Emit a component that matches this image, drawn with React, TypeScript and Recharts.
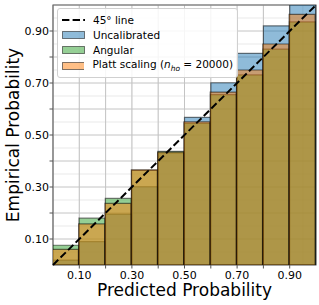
import React from "react";
import {
  Bar,
  BarChart,
  CartesianGrid,
  Legend,
  ReferenceArea,
  ReferenceLine,
  XAxis,
  YAxis,
} from "recharts";

// bin centres of the reliability diagram (10 equal-width bins on [0, 1])
const binCenters = [0.05, 0.15, 0.25, 0.35, 0.45, 0.55, 0.65, 0.75, 0.85, 0.95];
const uncalibrated = [0.019, 0.09, 0.196, 0.301, 0.43, 0.568, 0.701, 0.814, 0.92, 1.0];
const angular = [0.076, 0.18, 0.256, 0.364, 0.437, 0.546, 0.655, 0.731, 0.83, 0.935];
const platt = [0.06, 0.158, 0.237, 0.366, 0.434, 0.551, 0.665, 0.75, 0.85, 0.964];

const majorTicks = [0.1, 0.2, 0.3, 0.4, 0.5, 0.6, 0.7, 0.8, 0.9];
const labelledTicks = [0.1, 0.3, 0.5, 0.7, 0.9];
const minorTicks = [
  0.05, 0.1, 0.15, 0.2, 0.25, 0.3, 0.35, 0.4, 0.45, 0.5,
  0.55, 0.6, 0.65, 0.7, 0.75, 0.8, 0.85, 0.9, 0.95,
];

const BLUE = "#1f77b4";
const GREEN = "#2ca02c";
const ORANGE = "#ff7f0e";
const FONT = "'DejaVu Sans', sans-serif";

const data = binCenters.map((bin, i) => ({
  bin,
  uncal: uncalibrated[i],
  angular: angular[i],
  platt: platt[i],
}));

const isLabelled = (v: number) => labelledTicks.some((t) => Math.abs(t - v) < 1e-9);

// only every other tick carries a label; the rest keep just the tick mark
function XTick({ x, y, payload }: any) {
  if (!isLabelled(payload.value)) return <g />;
  return (
    <text x={x} y={y} dy="0.71em" textAnchor="middle" fontSize={11} fontFamily={FONT} fill="#000">
      {payload.value.toFixed(2)}
    </text>
  );
}

function YTick({ x, y, payload }: any) {
  if (!isLabelled(payload.value)) return <g />;
  return (
    <text x={x} y={y} dy="0.355em" textAnchor="end" fontSize={11} fontFamily={FONT} fill="#000">
      {payload.value.toFixed(2)}
    </text>
  );
}

function YTitle({ viewBox }: any) {
  const cx = 13;
  const cy = viewBox.y + viewBox.height / 2;
  return (
    <text
      x={cx}
      y={cy}
      transform={`rotate(-90, ${cx}, ${cy})`}
      textAnchor="middle"
      dominantBaseline="central"
      fontSize={17}
      fontFamily={FONT}
      fill="#000"
    >
      Empirical Probability
    </text>
  );
}

function XTitle({ viewBox }: any) {
  return (
    <text
      x={viewBox.x + viewBox.width / 2}
      y={viewBox.y + 31}
      textAnchor="middle"
      fontSize={17}
      fontFamily={FONT}
      fill="#000"
    >
      Predicted Probability
    </text>
  );
}

function Patch({ color }: { color: string }) {
  return (
    <svg width={23} height={8} style={{ display: "block" }}>
      <rect x={0.5} y={0.5} width={22} height={7} fill={color} fillOpacity={0.5} stroke="#000" strokeOpacity={0.5} />
    </svg>
  );
}

function CalibLegend() {
  const row: React.CSSProperties = { display: "flex", alignItems: "center", height: 15.4 };
  const text: React.CSSProperties = { marginLeft: 8, whiteSpace: "nowrap" };
  return (
    <div
      style={{
        fontFamily: FONT,
        fontSize: 10.5,
        color: "#000",
        background: "rgba(255,255,255,0.85)",
        border: "1px solid #d0d0d0",
        borderRadius: 3,
        padding: "3px 4px 3px 4px",
        width: 171,
      }}
    >
      <div style={row}>
        <svg width={23} height={8} style={{ display: "block" }}>
          <line x1={0} y1={4} x2={23} y2={4} stroke="#000" strokeWidth={2} strokeDasharray="7.4 3.2" />
        </svg>
        <span style={text}>45° line</span>
      </div>
      <div style={row}>
        <Patch color={BLUE} />
        <span style={text}>Uncalibrated</span>
      </div>
      <div style={row}>
        <Patch color={GREEN} />
        <span style={text}>Angular</span>
      </div>
      <div style={row}>
        <Patch color={ORANGE} />
        <span style={text}>
          Platt scaling (<i>n</i>
          <sub style={{ fontSize: 7.5, fontStyle: "italic" }}>ho</sub> = 20000)
        </span>
      </div>
    </div>
  );
}

export default function App() {
  return (
    <div style={{ position: "absolute", left: 0, top: 0, width: 319, height: 305, background: "#fff", fontFamily: FONT }}>
      <BarChart
        width={319}
        height={305}
        data={data}
        margin={{ top: 5, right: 3, left: 8, bottom: 0 }}
        barGap="-100%"
        barCategoryGap={0}
      >
        <XAxis
          xAxisId="num"
          dataKey="bin"
          type="number"
          domain={[0, 1]}
          allowDataOverflow
          ticks={majorTicks}
          tick={XTick}
          tickSize={3.5}
          tickMargin={3}
          tickLine={{ stroke: "#555" }}
          axisLine={false}
          height={40}
          interval={0}
          label={{ content: XTitle }}
        />
        <XAxis xAxisId="minor" dataKey="bin" type="number" domain={[0, 1]} allowDataOverflow ticks={minorTicks} hide height={0} />
        <YAxis
          type="number"
          domain={[0, 1]}
          allowDataOverflow
          ticks={majorTicks}
          tick={YTick}
          tickSize={3.5}
          tickMargin={0.5}
          tickLine={{ stroke: "#555" }}
          axisLine={false}
          width={45}
          interval={0}
          label={{ content: YTitle }}
        />
        <YAxis yAxisId="minor" type="number" domain={[0, 1]} allowDataOverflow ticks={minorTicks} hide width={0} />
        <CartesianGrid xAxisId="minor" yAxisId="minor" stroke="#e3e3e3" strokeWidth={0.8} />
        <CartesianGrid xAxisId="num" stroke="#c4c4c4" strokeWidth={1} />
        <Bar xAxisId="num" dataKey="uncal" fill={BLUE} fillOpacity={0.5} stroke="#000" strokeOpacity={0.5} strokeWidth={1.2} isAnimationActive={false} />
        <Bar xAxisId="num" dataKey="angular" fill={GREEN} fillOpacity={0.5} stroke="#000" strokeOpacity={0.5} strokeWidth={1.2} isAnimationActive={false} />
        <Bar xAxisId="num" dataKey="platt" fill={ORANGE} fillOpacity={0.5} stroke="#000" strokeOpacity={0.5} strokeWidth={1.2} isAnimationActive={false} />
        <ReferenceLine
          xAxisId="num"
          segment={[{ x: 0, y: 0 }, { x: 1, y: 1 }]}
          stroke="#000"
          strokeWidth={2}
          strokeDasharray="7.4 3.2"
        />
        <ReferenceArea xAxisId="num" x1={0} x2={1} y1={0} y2={1} fill="none" stroke="#6b6b6b" strokeWidth={1.2} />
        <Legend
          content={CalibLegend}
          layout="vertical"
          align="center"
          verticalAlign="middle"
          wrapperStyle={{ left: 57, top: 8, width: "auto", height: "auto" }}
        />
      </BarChart>
    </div>
  );
}
